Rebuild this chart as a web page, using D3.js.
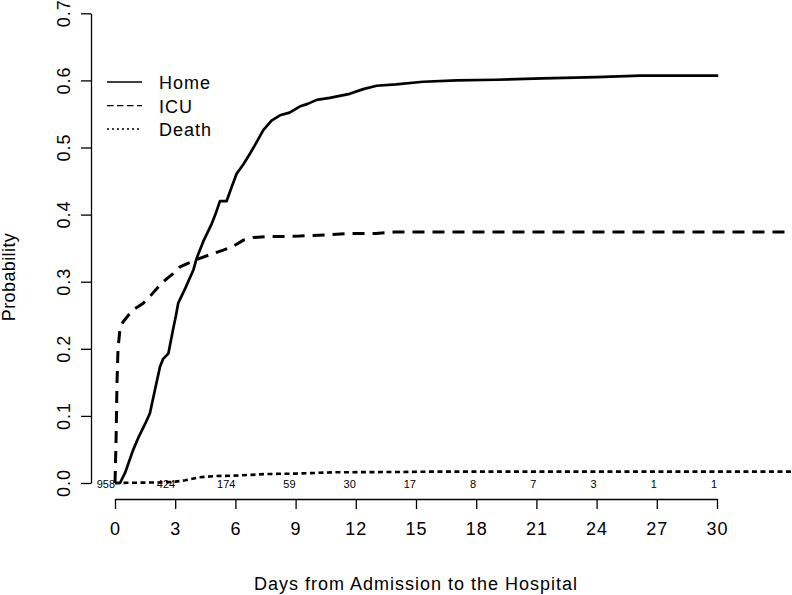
<!DOCTYPE html>
<html>
<head>
<meta charset="utf-8">
<script src="https://cdn.jsdelivr.net/npm/d3@7"></script>
<style>
  html, body { margin: 0; padding: 0; background: #fff; }
  svg { display: block; }
  text { font-family: "Liberation Sans", Arial, Helvetica, sans-serif; fill: #000; }
</style>
</head>
<body>
<svg id="chart" width="792" height="595"></svg>
<script>
// ---- data ----
const homeTime = [0, 0.25, 0.5, 0.9, 1.2, 1.5, 1.74, 2.0, 2.24, 2.4, 2.66, 2.9, 3.04, 3.15, 3.5, 3.9, 4.07, 4.4, 4.8, 5.0, 5.23, 5.56, 5.8, 6.06, 6.4, 6.73, 7.0, 7.39, 7.8, 8.22, 8.7, 9.2, 9.6, 10.05, 10.7, 11.7, 12.37, 13.04, 14.0, 15.36, 17.02, 19.0, 21.3, 24.0, 26.2, 30.06];
const homeProb = [0, 0, 0.015, 0.049, 0.07, 0.088, 0.104, 0.14, 0.173, 0.185, 0.193, 0.23, 0.25, 0.268, 0.29, 0.317, 0.335, 0.36, 0.385, 0.40, 0.42, 0.42, 0.44, 0.461, 0.475, 0.491, 0.505, 0.526, 0.54, 0.548, 0.552, 0.561, 0.565, 0.571, 0.574, 0.58, 0.587, 0.592, 0.594, 0.598, 0.600, 0.601, 0.603, 0.605, 0.607, 0.607];

const icuTime = [0, 0.05, 0.1, 0.15, 0.25, 0.4, 0.75, 1.0, 1.41, 1.8, 2.24, 2.6, 2.9, 3.24, 3.6, 4.07, 4.7, 5.4, 5.9, 6.4, 6.9, 7.56, 9.2, 10.7, 11.7, 13.0, 13.9, 34];
const icuProb = [0, 0.06, 0.15, 0.2, 0.23, 0.24, 0.253, 0.26, 0.268, 0.28, 0.295, 0.305, 0.312, 0.322, 0.327, 0.333, 0.34, 0.347, 0.353, 0.362, 0.366, 0.367, 0.368, 0.37, 0.372, 0.372, 0.374, 0.374];

const deathTime = [0, 2.5, 3.0, 3.5, 4.2, 5.07, 6.0, 7.56, 9.0, 10.9, 14.2, 16.0, 34];
const deathProb = [0, 0.001, 0.002, 0.004, 0.0085, 0.0104, 0.011, 0.0134, 0.014, 0.016, 0.0164, 0.017, 0.017];

const xTicks = [0, 3, 6, 9, 12, 15, 18, 21, 24, 27, 30];
const atRisk = [958, 424, 174, 59, 30, 17, 8, 7, 3, 1, 1];
const yTicks = [0, 0.1, 0.2, 0.3, 0.4, 0.5, 0.6, 0.7];
const seriesNames = ["Home", "ICU", "Death"];

// ---- layout ----
const svg = d3.select("#chart");
const x = d3.scaleLinear().domain([0, 30]).range([115, 717]);
const y = d3.scaleLinear().domain([0, 0.7]).range([483, 13.3]);
const AXIS_X = 91, AXIS_Y = 499;
const FONT = 18;

const styles = [
  { width: 2.7, dash: null },
  { width: 3, dash: "12,8" },
  { width: 2.6, dash: "5,3.5" }
];
const legendStyles = [
  { width: 1.3, dash: null },
  { width: 1.3, dash: "6.5,3.5" },
  { width: 1.3, dash: "2,3" }
];

const series = [
  homeTime.map((t, i) => [t, homeProb[i]]),
  icuTime.map((t, i) => [t, icuProb[i]]),
  deathTime.map((t, i) => [t, deathProb[i]])
];

const line = d3.line().x(d => x(d[0])).y(d => y(d[1]));

svg.append("g").selectAll("path").data(series).join("path")
  .attr("d", line)
  .attr("fill", "none")
  .attr("stroke", "#000")
  .attr("stroke-width", (d, i) => styles[i].width)
  .attr("stroke-dasharray", (d, i) => styles[i].dash)
  .attr("stroke-linejoin", "round");

// ---- x axis ----
const gx = svg.append("g").attr("transform", `translate(0,${AXIS_Y})`)
  .call(d3.axisBottom(x).tickValues(xTicks).tickSize(10).tickSizeOuter(0).tickFormat(d3.format("d")));
gx.select(".domain").attr("stroke", "#000").attr("stroke-width", 1.3);
gx.selectAll(".tick line").attr("stroke", "#000").attr("stroke-width", 1.3);
gx.selectAll(".tick text")
  .attr("y", 36).attr("dy", 0)
  .style("font-size", FONT + "px")
  .style("letter-spacing", "1px")
  .style("font-family", "'Liberation Sans', Arial, sans-serif");

// ---- y axis ----
const gy = svg.append("g").attr("transform", `translate(${AXIS_X},0)`)
  .call(d3.axisLeft(y).tickValues(yTicks).tickSize(10).tickSizeOuter(0).tickFormat(""));
gy.select(".domain").attr("stroke", "#000").attr("stroke-width", 1.3);
gy.selectAll(".tick line").attr("stroke", "#000").attr("stroke-width", 1.3);
gy.selectAll(".tick text").remove();

svg.append("g").selectAll("text").data(yTicks).join("text")
  .attr("transform", d => `translate(70,${y(d)}) rotate(-90)`)
  .attr("text-anchor", "middle")
  .style("font-size", FONT + "px")
  .style("letter-spacing", "1px")
  .text(d => d3.format(".1f")(d));

// ---- numbers at risk ----
svg.append("g").selectAll("text").data(xTicks).join("text")
  .attr("x", d => x(d))
  .attr("y", 488)
  .attr("text-anchor", "end")
  .style("font-size", "11px")
  .text((d, i) => atRisk[i]);

// ---- axis titles ----
svg.append("text")
  .attr("x", 416).attr("y", 590)
  .attr("text-anchor", "middle")
  .style("font-size", FONT + "px")
  .style("letter-spacing", "1px")
  .text("Days from Admission to the Hospital");

svg.append("text")
  .attr("transform", "translate(15,277) rotate(-90)")
  .attr("text-anchor", "middle")
  .style("font-size", FONT + "px")
  .style("letter-spacing", "0.4px")
  .text("Probability");

// ---- legend ----
const legendY = [82, 105.7, 129];
const lg = svg.append("g");
lg.selectAll("line").data(seriesNames).join("line")
  .attr("x1", 107).attr("x2", 142)
  .attr("y1", (d, i) => legendY[i]).attr("y2", (d, i) => legendY[i])
  .attr("stroke", "#000")
  .attr("stroke-width", (d, i) => legendStyles[i].width)
  .attr("stroke-dasharray", (d, i) => legendStyles[i].dash);
lg.selectAll("text").data(seriesNames).join("text")
  .attr("x", 159)
  .attr("y", (d, i) => legendY[i] + 6.8)
  .style("font-size", FONT + "px")
  .style("letter-spacing", "1px")
  .text(d => d);
</script>
</body>
</html>
